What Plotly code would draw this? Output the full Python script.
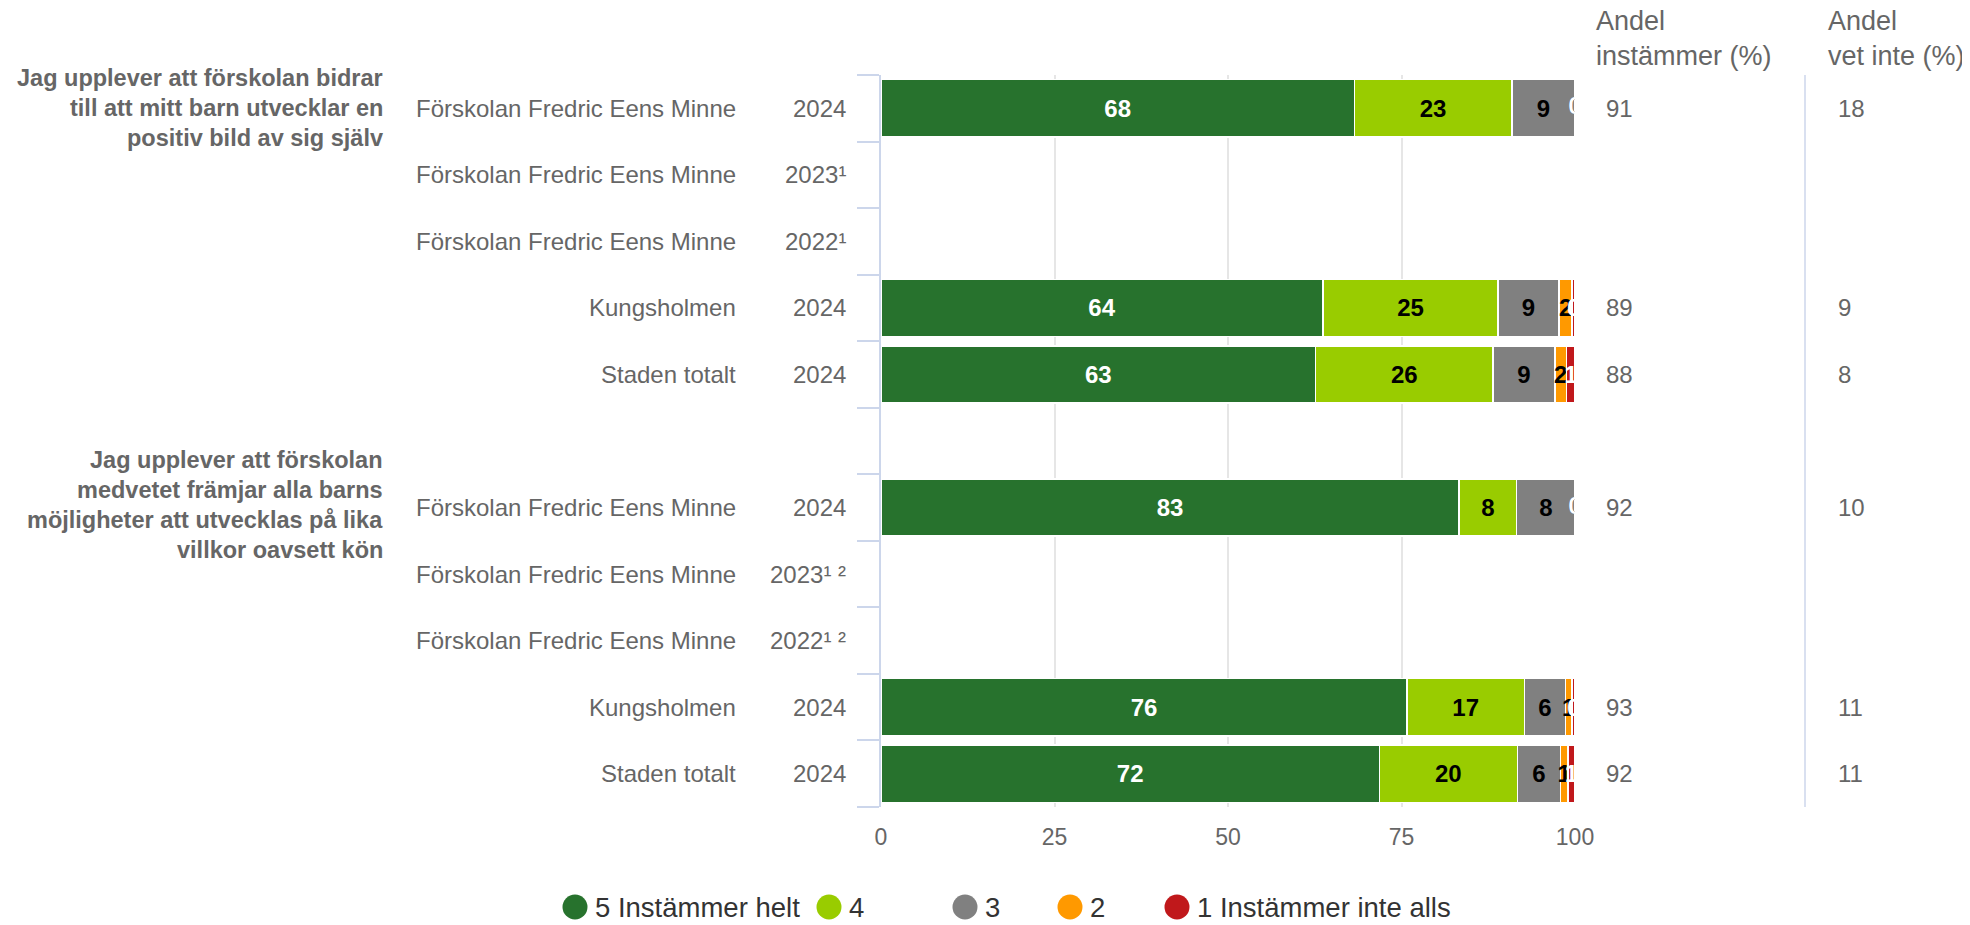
import plotly.graph_objects as go

# ---------------- data ----------------
questions = [
    ["Jag upplever att förskolan bidrar", "till att mitt barn utvecklar en", "positiv bild av sig själv"],
    ["Jag upplever att förskolan", "medvetet främjar alla barns",
     "möjligheter att utvecklas på lika", "villkor oavsett kön"],
]
units = ["Förskolan Fredric Eens Minne", "Förskolan Fredric Eens Minne",
         "Förskolan Fredric Eens Minne", "Kungsholmen", "Staden totalt"]
years_q1 = ["2024", "2023¹", "2022¹", "2024", "2024"]
years_q2 = ["2024", "2023¹ ²", "2022¹ ²", "2024", "2024"]

series_names = ["5 Instämmer helt", "4", "3", "2", "1 Instämmer inte alls"]

# values per question, order of units above (None = no data)
q1_s5 = [68.2, None, None, 63.7, 62.6]
q1_s4 = [22.7, None, None, 25.2, 25.6]
q1_s3 = [9.1, None, None, 8.8, 8.9]
q1_s2 = [0, None, None, 1.9, 1.7]
q1_s1 = [0, None, None, 0.4, 1.2]

q2_s5 = [83.3, None, None, 75.8, 71.8]
q2_s4 = [8.3, None, None, 16.9, 19.9]
q2_s3 = [8.4, None, None, 5.9, 6.2]
q2_s2 = [0, None, None, 1.0, 1.1]
q2_s1 = [0, None, None, 0.4, 1.0]

q1_instammer = [91, None, None, 89, 88]
q2_instammer = [92, None, None, 93, 92]
q1_vet_inte = [18, None, None, 9, 8]
q2_vet_inte = [10, None, None, 11, 11]

x_ticks = [0, 25, 50, 75, 100]

# ---------------- style ----------------
colors = ["#27722d", "#99cc00", "#808080", "#ff9900", "#c0181b"]
label_colors = ["#ffffff", "#000000", "#000000", "#000000", "#ffffff"]
FONT = "Liberation Sans, Arial, sans-serif"
GRAY = "#666666"
AXIS_BLUE = "#ccd6eb"

OFF = 8                      # page body margin
W, H = 1970 - OFF, 925 - OFF
PL, PR, PT, PB = 881, 1575, 75, 807  # plot area in screen pixels


def px_x(px):
    return (px - PL) / (PR - PL)


def px_y(py):
    return (PB - py) / (PB - PT)


# slot positions (row index, top to bottom), slot 5 is an empty gap
slots_q1 = [0, 1, 2, 3, 4]
slots_q2 = [6, 7, 8, 9, 10]

all_slots = slots_q1 + slots_q2
all_units = units + units
all_years = years_q1 + years_q2
series_q1 = [q1_s5, q1_s4, q1_s3, q1_s2, q1_s1]
series_q2 = [q2_s5, q2_s4, q2_s3, q2_s2, q2_s1]
series_all = [a + b for a, b in zip(series_q1, series_q2)]
instammer_all = q1_instammer + q2_instammer
vet_inte_all = q1_vet_inte + q2_vet_inte

fig = go.Figure()

for name, vals, col, lcol in zip(series_names, series_all, colors, label_colors):
    xs = [v if (v is not None and v > 0) else None for v in vals]
    fig.add_trace(go.Bar(
        name=name, orientation="h", x=xs, y=all_slots,
        marker=dict(color=col, line=dict(color="#ffffff", width=1.5)),
        width=0.86,
        texttemplate="%{x:.0f}", textposition="inside", insidetextanchor="middle",
        textangle=0,
        textfont=dict(family=FONT, size=24, color=lcol, weight="bold"),
        showlegend=False, hoverinfo="skip",
    ))

# zero-valued segments: label "0" at the cumulative end position
cum = [0.0] * len(all_slots)
for vals, lcol in zip(series_all, label_colors):
    zx, zy = [], []
    for i, v in enumerate(vals):
        if v is None:
            continue
        if v == 0:
            zx.append(cum[i])
            zy.append(all_slots[i])
        cum[i] += v
    if zx:
        fig.add_trace(go.Scatter(
            x=zx, y=zy, mode="text", text=["0"] * len(zx),
            textfont=dict(family=FONT, size=24, color=lcol, weight="bold"),
            showlegend=False, hoverinfo="skip", cliponaxis=True,
        ))

fig.update_layout(
    width=W, height=H,
    margin=dict(l=PL - OFF, r=1970 - PR, t=PT - OFF, b=925 - PB),
    barmode="stack",
    plot_bgcolor="#ffffff", paper_bgcolor="#ffffff",
    font=dict(family=FONT, color=GRAY),
    uniformtext=dict(minsize=24, mode="show"),
    showlegend=False,
)
fig.update_xaxes(
    range=[0, 100], tickvals=x_ticks, ticktext=[str(t) for t in x_ticks],
    showgrid=True, gridcolor="#e6e6e6", gridwidth=1.5, zeroline=False,
    showline=False, ticks="", ticklabelstandoff=14,
    tickfont=dict(family=FONT, size=23, color=GRAY),
)
fig.update_yaxes(
    range=[10.5, -0.5], showgrid=False, zeroline=False,
    showline=True, linecolor=AXIS_BLUE, linewidth=1.5,
    tickvals=[i - 0.5 for i in range(12)], ticks="outside", ticklen=22,
    tickcolor=AXIS_BLUE, tickwidth=1.5, showticklabels=False,
)

ann = []
# question texts, one annotation per line (line spacing 30 px)
q_line_tops = [78, 460]
for lines, y0 in zip(questions, q_line_tops):
    for k, line in enumerate(lines):
        ann.append(dict(text=line, xref="paper", x=px_x(385), xanchor="right", align="right",
                        yref="paper", y=px_y(y0 + 30 * k), yanchor="middle", showarrow=False,
                        font=dict(family=FONT, size=23.5, color=GRAY, weight="bold")))
# unit and year labels
for s, u, yr in zip(all_slots, all_units, all_years):
    ann.append(dict(text=u, xref="paper", x=px_x(738), xanchor="right",
                    yref="y", y=s, yanchor="middle", showarrow=False,
                    font=dict(family=FONT, size=24, color=GRAY)))
    ann.append(dict(text=yr, xref="paper", x=px_x(848), xanchor="right",
                    yref="y", y=s, yanchor="middle", showarrow=False,
                    font=dict(family=FONT, size=24, color=GRAY)))
# right columns
ann.append(dict(text="Andel<br>instämmer (%)", xref="paper", x=px_x(1594), xanchor="left",
                align="left", yref="paper", y=px_y(4), yanchor="top", showarrow=False,
                font=dict(family=FONT, size=27, color=GRAY)))
ann.append(dict(text="Andel<br>vet inte (%)", xref="paper", x=px_x(1826), xanchor="left",
                align="left", yref="paper", y=px_y(4), yanchor="top", showarrow=False,
                font=dict(family=FONT, size=27, color=GRAY)))
for s, a, v in zip(all_slots, instammer_all, vet_inte_all):
    if a is not None:
        ann.append(dict(text=str(a), xref="paper", x=px_x(1604), xanchor="left",
                        yref="y", y=s, yanchor="middle", showarrow=False,
                        font=dict(family=FONT, size=24, color=GRAY)))
    if v is not None:
        ann.append(dict(text=str(v), xref="paper", x=px_x(1836), xanchor="left",
                        yref="y", y=s, yanchor="middle", showarrow=False,
                        font=dict(family=FONT, size=24, color=GRAY)))

shapes = [dict(type="line", xref="paper", x0=px_x(1805), x1=px_x(1805),
               yref="paper", y0=0, y1=1, line=dict(color=AXIS_BLUE, width=1.5))]

# custom legend with large round markers
legend_px = [575, 829, 965, 1070, 1177]
legend_py = 907
for name, col, lx in zip(series_names, colors, legend_px):
    shapes.append(dict(type="circle", xref="paper", yref="paper",
                       xsizemode="pixel", ysizemode="pixel",
                       xanchor=px_x(lx), yanchor=px_y(legend_py),
                       x0=-12.5, x1=12.5, y0=-12.5, y1=12.5,
                       fillcolor=col, line=dict(width=0)))
    ann.append(dict(text=name, xref="paper", x=px_x(lx + 18), xanchor="left",
                    yref="paper", y=px_y(legend_py), yanchor="middle", showarrow=False,
                    font=dict(family=FONT, size=27.5, color="#333333")))

fig.update_layout(annotations=ann, shapes=shapes)

fig.write_html("out.html")
